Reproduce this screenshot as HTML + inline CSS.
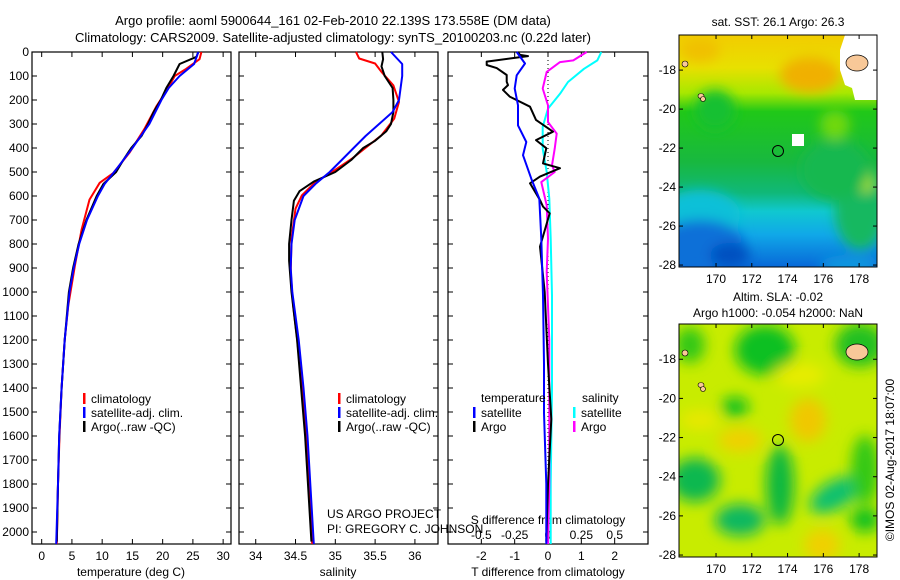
<!DOCTYPE html>
<html><head><meta charset="utf-8">
<style>
body{margin:0;background:#fff;}
svg{display:block;font-family:"Liberation Sans",sans-serif;}
text{fill:#000;}
</style></head>
<body>
<svg id="chart" width="900" height="580" viewBox="0 0 900 580" xmlns="http://www.w3.org/2000/svg">
<defs>
<filter id="blur1" x="-20%" y="-20%" width="140%" height="140%"><feGaussianBlur stdDeviation="6"/></filter>
<filter id="blur2" x="-30%" y="-30%" width="160%" height="160%"><feGaussianBlur stdDeviation="7"/></filter>
<clipPath id="clipM1"><rect x="679" y="35" width="198" height="232"/></clipPath>
<clipPath id="clipM2"><rect x="679" y="324" width="198" height="233"/></clipPath>
<linearGradient id="sstGrad" x1="0" y1="0" x2="0" y2="1">
<stop offset="0" stop-color="#f2cc00"/><stop offset="0.14" stop-color="#e8e000"/><stop offset="0.25" stop-color="#a8e800"/>
<stop offset="0.33" stop-color="#20c818"/><stop offset="0.55" stop-color="#18b840"/><stop offset="0.68" stop-color="#10b878"/>
<stop offset="0.76" stop-color="#10c8d0"/><stop offset="0.86" stop-color="#10a8e8"/><stop offset="1" stop-color="#0868d8"/>
</linearGradient>
</defs>
<g>
<text x="333" y="25" font-size="13" text-anchor="middle">Argo profile: aoml 5900644_161 02-Feb-2010 22.139S 173.558E (DM data)</text>
<text x="333" y="42" font-size="13" text-anchor="middle">Climatology: CARS2009. Satellite-adjusted climatology: synTS_20100203.nc (0.22d later)</text>
</g>
<g id="panels"></g>
<!-- Map 1 -->
<g>
<text x="778" y="26" font-size="12" text-anchor="middle">sat. SST: 26.1 Argo: 26.3</text>
<g clip-path="url(#clipM1)">
<rect x="679" y="35" width="198" height="232" fill="url(#sstGrad)"/>
<g filter="url(#blur1)">
<ellipse cx="700" cy="215" rx="40" ry="25" fill="#10c0d8"/>
<ellipse cx="700" cy="245" rx="45" ry="25" fill="#0870d8"/>
<ellipse cx="730" cy="255" rx="20" ry="12" fill="#0050c0"/>
<ellipse cx="860" cy="210" rx="25" ry="40" fill="#18b860"/>
<ellipse cx="865" cy="180" rx="8" ry="12" fill="#c8f000"/>
<ellipse cx="835" cy="170" rx="35" ry="30" fill="#18b850"/>
<ellipse cx="810" cy="75" rx="30" ry="18" fill="#f0b000"/>
<ellipse cx="700" cy="50" rx="20" ry="12" fill="#f0c000"/>
<ellipse cx="715" cy="110" rx="20" ry="20" fill="#18c030"/>
<ellipse cx="835" cy="125" rx="15" ry="15" fill="#70d810"/>
<ellipse cx="850" cy="265" rx="30" ry="10" fill="#1098e0"/>
</g>
<path d="M845,35 L877,35 L877,100 L855,100 L852,88 L845,85 L840,70 L840,50 Z" fill="#fff"/>
<rect x="792" y="134" width="12" height="12" fill="#fff"/>
<ellipse cx="857" cy="63" rx="11" ry="8" fill="#f8c898" stroke="#000" stroke-width="0.7"/>
<ellipse cx="701" cy="96" rx="3" ry="2.5" fill="#f8c898" stroke="#000" stroke-width="0.6"/>
<ellipse cx="703" cy="99" rx="2.5" ry="2.5" fill="#f8c898" stroke="#000" stroke-width="0.6"/>
<ellipse cx="685" cy="64" rx="3" ry="3" fill="#f8c898" stroke="#000" stroke-width="0.6"/>
<circle cx="778" cy="151" r="5.5" fill="none" stroke="#000" stroke-width="1"/>
</g>
<rect x="679" y="35" width="198" height="232" fill="none" stroke="#000" stroke-width="1"/>
<g id="map1axes"></g>
</g>
<!-- Map 2 -->
<g>
<text x="778" y="301" font-size="12" text-anchor="middle">Altim. SLA: -0.02</text>
<text x="778" y="317" font-size="12" text-anchor="middle">Argo h1000: -0.054 h2000: NaN</text>
<g clip-path="url(#clipM2)">
<rect x="679" y="324" width="198" height="233" fill="#c8ec00"/>
<g filter="url(#blur2)">
<ellipse cx="765" cy="350" rx="30" ry="25" fill="#10c020"/>
<ellipse cx="690" cy="345" rx="15" ry="18" fill="#30c818"/>
<ellipse cx="860" cy="345" rx="25" ry="22" fill="#20c020"/>
<ellipse cx="800" cy="375" rx="25" ry="12" fill="#e8ec00"/>
<ellipse cx="700" cy="420" rx="20" ry="10" fill="#e8e800"/>
<ellipse cx="740" cy="440" rx="22" ry="12" fill="#f0d000"/>
<ellipse cx="808" cy="420" rx="18" ry="22" fill="#f0c800"/>
<ellipse cx="735" cy="407" rx="14" ry="10" fill="#10c020"/>
<ellipse cx="695" cy="480" rx="25" ry="22" fill="#10b850"/>
<ellipse cx="780" cy="485" rx="14" ry="40" fill="#10b840"/>
<ellipse cx="835" cy="495" rx="28" ry="14" fill="#10c070" transform="rotate(-30 835 495)"/>
<ellipse cx="740" cy="520" rx="25" ry="16" fill="#10b860"/>
<ellipse cx="865" cy="470" rx="14" ry="35" fill="#30c818"/>
<ellipse cx="865" cy="520" rx="15" ry="12" fill="#10c020"/>
<ellipse cx="822" cy="545" rx="18" ry="16" fill="#f0d000"/>
</g>
<ellipse cx="857" cy="352" rx="11" ry="8" fill="#f8c898" stroke="#000" stroke-width="0.7"/>
<ellipse cx="701" cy="385" rx="3" ry="2.5" fill="#f8c898" stroke="#000" stroke-width="0.6"/>
<ellipse cx="703" cy="389" rx="2.5" ry="2.5" fill="#f8c898" stroke="#000" stroke-width="0.6"/>
<ellipse cx="685" cy="353" rx="3" ry="3" fill="#f8c898" stroke="#000" stroke-width="0.6"/>
<circle cx="778" cy="440" r="5.5" fill="none" stroke="#000" stroke-width="1"/>
</g>
<rect x="679" y="324" width="198" height="233" fill="none" stroke="#000" stroke-width="1"/>
<g id="map2axes"></g>
</g>
<text x="0" y="0" font-size="12" text-anchor="middle" transform="translate(894,460) rotate(-90)">©IMOS 02-Aug-2017 18:07:00</text>
</svg>
<script>
// ---- data ----
const depthTicks=[0,100,200,300,400,500,600,700,800,900,1000,1100,1200,1300,1400,1500,1600,1700,1800,1900,2000];
const tempTicks=[0,5,10,15,20,25,30];
const salTicks=[34,34.5,35,35.5,36];
const tdiffTicks=[-2,-1,0,1,2];
const sdiffTicks=[-0.5,-0.25,0,0.25,0.5];
const sdiffLabels=["-0.5","-0.25","0","0.25","0.5"];
const lonTicks=[170,172,174,176,178];
const latTicks=[-18,-20,-22,-24,-26,-28];

const tClimD=[0,30,70,100,155,225,320,420,505,545,615,740,890,1055,1200,1400,1600,1800,2050];
const tClimV=[26.4,26.1,23.9,22.0,20.8,19.0,17.0,14.5,11.8,9.6,7.9,6.6,5.5,4.4,3.8,3.3,2.95,2.7,2.5];
const tSatD=[0,50,100,150,200,300,400,480,550,600,700,800,900,1000,1200,1400,1600,1800,2050];
const tSatV=[25.9,25.2,22.8,21.0,19.8,17.8,15.0,12.6,10.4,9.3,7.5,6.2,5.3,4.6,3.8,3.3,2.9,2.7,2.4];
const tArgoD=[0,20,50,100,150,200,250,300,350,400,450,500,550,600,700,800,900,1000,1200,1400,1600,1800,2040];
const tArgoV=[25.9,25.6,22.8,21.8,20.6,19.7,18.5,17.6,16.5,14.8,13.5,12.3,10.2,9.1,7.4,6.1,5.2,4.5,3.8,3.3,2.9,2.7,2.5];

const sClimD=[0,27,48,83,139,208,278,347,389,444,500,542,597,653,778,917,1055,1194,1400,1600,1800,2050];
const sClimV=[35.26,35.3,35.5,35.58,35.73,35.8,35.74,35.58,35.42,35.21,34.96,34.75,34.58,34.5,34.45,34.44,34.47,34.52,34.58,34.63,34.67,34.71];
const sSatD=[0,50,100,200,250,300,350,400,450,500,550,600,700,800,900,1000,1200,1400,1600,2050];
const sSatV=[35.7,35.84,35.84,35.8,35.72,35.55,35.38,35.23,35.08,34.93,34.75,34.6,34.49,34.45,34.44,34.46,34.54,34.6,34.65,34.73];
const sArgoD=[0,30,60,100,150,200,250,300,330,370,400,450,500,540,580,620,700,800,870,1000,1200,1600,2040];
const sArgoV=[35.59,35.6,35.58,35.62,35.72,35.73,35.73,35.7,35.64,35.5,35.35,35.2,35.0,34.73,34.55,34.48,34.45,34.42,34.42,34.45,34.52,34.62,34.7];

const dTArgoD=[0,12,17,40,54,67,96,124,138,158,186,228,283,332,367,401,464,484,519,547,617,644,672,811,1000,1300,1530,1800,2040];
const dTArgoV=[-0.9,-0.84,-0.6,-1.84,-1.84,-1.54,-1.24,-1.24,-1.2,-1.35,-1.15,-0.54,-0.36,0.15,-0.36,-0.05,-0.15,0.36,-0.24,-0.54,-0.24,-0.15,0.05,-0.24,-0.1,0.0,0.1,0.0,-0.05];
const dTSatD=[0,48,97,152,222,306,375,430,528,611,778,1014,1300,1504,1800,2050];
const dTSatV=[-0.94,-0.69,-0.94,-1.0,-0.9,-0.9,-0.65,-0.75,-0.5,-0.26,-0.2,-0.15,-0.12,-0.12,-0.05,-0.05];
const dSArgoD=[0,35,42,83,152,222,292,340,403,472,500,542,639,778,917,1200,1500,1800,2050];
const dSArgoV=[0.29,0.19,0.09,-0.01,-0.04,0.0,0.0,0.065,0.05,0.03,0.05,-0.05,-0.01,0.0,-0.01,0.01,0.01,0.01,0.0];
const dSSatD=[0,35,70,125,174,236,312,403,500,611,778,1014,1400,1800,2050];
const dSSatV=[0.4,0.37,0.27,0.15,0.09,0.0,-0.04,-0.04,-0.01,0.01,0.02,0.03,0.03,0.02,0.02];

// ---- helpers ----
const NS="http://www.w3.org/2000/svg";
const root=document.getElementById('panels');
function mk(tag,attrs,parent){const e=document.createElementNS(NS,tag);for(const k in attrs)e.setAttribute(k,attrs[k]);(parent||root).appendChild(e);return e;}
const TOP=52,BOT=544,DMAX=2050;
function yD(d){return TOP+d/DMAX*(BOT-TOP);}
function makeX(x0,x1,v0,v1){return v=>x0+(v-v0)/(v1-v0)*(x1-x0);}

function line(parent,xs,D,V,color,name){
  let d='';for(let i=0;i<D.length;i++){d+=(i?'L':'M')+xs(V[i]).toFixed(1)+','+yD(D[i]).toFixed(1);}
  const p=mk('path',{d:d,fill:'none',stroke:color,'stroke-width':2,'stroke-linejoin':'round'},parent);
  
  
}
function frame(x0,x1,name){
  const g=mk('g',{});
  
  
  mk('rect',{x:x0,y:TOP,width:x1-x0,height:BOT-TOP,fill:'none',stroke:'#000','stroke-width':1.2},g);
  depthTicks.forEach(d=>{const y=yD(d);
    mk('line',{x1:x0,x2:x0+5,y1:y,y2:y,stroke:'#000'},g);mk('line',{x1:x1-5,x2:x1,y1:y,y2:y,stroke:'#000'},g);});
  return g;
}
function xTicks(g,xs,ticks,labels,x0,x1,labelY){
  ticks.forEach((t,i)=>{const x=xs(t);
    mk('line',{x1:x,x2:x,y1:BOT,y2:BOT-5,stroke:'#000'},g);mk('line',{x1:x,x2:x,y1:TOP,y2:TOP+5,stroke:'#000'},g);
    if(labelY){const tx=mk('text',{x:x,y:labelY,'font-size':12,'text-anchor':'middle'},g);tx.textContent=labels?labels[i]:String(t);}
  });
}
function legendEntry(g,x,y,color,label,name){
  mk('rect',{x:x,y:y-9,width:2.5,height:11,fill:color},g);
  const t=mk('text',{x:x+8,y:y+1,'font-size':12},g);t.textContent=label;
  
  
}

// Panel 1: temperature
const xT=makeX(32,231,-1.6,31.3);
const g1=frame(32,231,'temperature-panel');
depthTicks.forEach(d=>{const t=mk('text',{x:29,y:yD(d)+4,'font-size':12,'text-anchor':'end'},g1);t.textContent=d;});
xTicks(g1,xT,tempTicks,null,32,231,560);
const tt=mk('text',{x:131,y:576,'font-size':12,'text-anchor':'middle'},g1);tt.textContent='temperature (deg C)';


line(g1,xT,tClimD,tClimV,'#ff0000','temp-climatology-line');
line(g1,xT,tArgoD,tArgoV,'#000000','temp-argo-line');
line(g1,xT,tSatD,tSatV,'#0000ff','temp-satellite-line');
legendEntry(g1,83,402,'#ff0000','climatology','legend-climatology');
legendEntry(g1,83,416,'#0000ff','satellite-adj. clim.','legend-satellite');
legendEntry(g1,83,430,'#000000','Argo(..raw -QC)','legend-argo');

// Panel 2: salinity
const xS=makeX(239,438,33.79,36.29);
const g2=frame(239,438,'salinity-panel');
xTicks(g2,xS,salTicks,null,239,438,560);
const st=mk('text',{x:338,y:576,'font-size':12,'text-anchor':'middle'},g2);st.textContent='salinity';


line(g2,xS,sClimD,sClimV,'#ff0000','sal-climatology-line');
line(g2,xS,sArgoD,sArgoV,'#000000','sal-argo-line');
line(g2,xS,sSatD,sSatV,'#0000ff','sal-satellite-line');
legendEntry(g2,338,402,'#ff0000','climatology','legend-climatology-2');
legendEntry(g2,338,416,'#0000ff','satellite-adj. clim.','legend-satellite-2');
legendEntry(g2,338,430,'#000000','Argo(..raw -QC)','legend-argo-2');
const pr1=mk('text',{x:327,y:518,'font-size':12},g2);pr1.textContent='US ARGO PROJECT';


const pr2=mk('text',{x:327,y:533,'font-size':12},g2);pr2.textContent='PI: GREGORY C. JOHNSON';



// Panel 3: differences
const xDT=makeX(448,648,-3,3);
const xDS=makeX(448,648,-0.75,0.75);
const g3=frame(448,648,'difference-panel');
xTicks(g3,xDT,tdiffTicks,null,448,648,560);
sdiffTicks.forEach((t,i)=>{const tx=mk('text',{x:xDS(t),y:539,'font-size':12,'text-anchor':'middle'},g3);tx.textContent=sdiffLabels[i];});
mk('line',{x1:xDT(0),x2:xDT(0),y1:TOP,y2:BOT,stroke:'#000','stroke-dasharray':'1,3'},g3);
const dt=mk('text',{x:548,y:576,'font-size':12,'text-anchor':'middle'},g3);dt.textContent='T difference from climatology';


const ds=mk('text',{x:548,y:524,'font-size':12,'text-anchor':'middle'},g3);ds.textContent='S difference from climatology';


line(g3,xDS,dSSatD,dSSatV,'#00ffff','sdiff-satellite-line');
line(g3,xDS,dSArgoD,dSArgoV,'#ff00ff','sdiff-argo-line');
line(g3,xDT,dTArgoD,dTArgoV,'#000000','tdiff-argo-line');
line(g3,xDT,dTSatD,dTSatV,'#0000ff','tdiff-satellite-line');
const lt=mk('text',{x:481,y:402,'font-size':12},g3);lt.textContent='temperature';
const ls=mk('text',{x:582,y:402,'font-size':12},g3);ls.textContent='salinity';
legendEntry(g3,473,416,'#0000ff','satellite','legend-tdiff-satellite');
legendEntry(g3,473,430,'#000000','Argo','legend-tdiff-argo');
legendEntry(g3,573,416,'#00ffff','satellite','legend-sdiff-satellite');
legendEntry(g3,573,430,'#ff00ff','Argo','legend-sdiff-argo');

// Map axes
function mapAxes(id,top,bot,labelY){
  const g=document.getElementById(id);
  const xl=makeX(679,877,167.93,179.0);
  const yl=v=>top+(v-(-16.2))/(-28.1-(-16.2))*(bot-top);
  lonTicks.forEach(t=>{const x=xl(t);
    mk('line',{x1:x,x2:x,y1:bot,y2:bot-4,stroke:'#000'},g);mk('line',{x1:x,x2:x,y1:top,y2:top+4,stroke:'#000'},g);
    const tx=mk('text',{x:x,y:labelY,'font-size':12,'text-anchor':'middle'},g);tx.textContent=t;});
  latTicks.forEach(t=>{const y=yl(t);
    mk('line',{x1:679,x2:683,y1:y,y2:y,stroke:'#000'},g);mk('line',{x1:873,x2:877,y1:y,y2:y,stroke:'#000'},g);
    const tx=mk('text',{x:676,y:y+4,'font-size':12,'text-anchor':'end'},g);tx.textContent=t;});
}
mapAxes('map1axes',35,267,283);
mapAxes('map2axes',324,557,573);
</script>
</body></html>
